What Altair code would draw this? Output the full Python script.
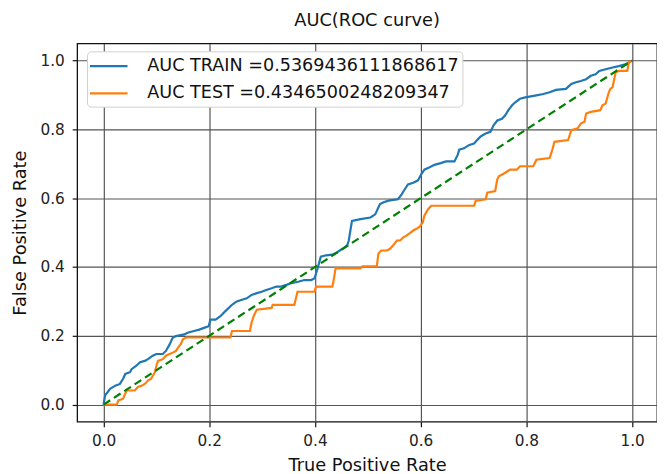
import altair as alt
import pandas as pd

train_label = "AUC TRAIN =0.5369436111868617"
test_label = "AUC TEST =0.4346500248209347"

train_fpr = [0, 0.003, 0.0125, 0.022, 0.031, 0.037, 0.041, 0.050, 0.053, 0.062, 0.069, 0.078, 0.084, 0.093,
             0.100, 0.112, 0.118, 0.125, 0.131, 0.137, 0.153, 0.159, 0.171, 0.181, 0.190, 0.199, 0.202, 0.212,
             0.221, 0.230, 0.243, 0.252, 0.262, 0.271, 0.280, 0.290, 0.299, 0.308, 0.318, 0.327, 0.336, 0.346,
             0.355, 0.368, 0.380, 0.393, 0.399, 0.402, 0.405, 0.411, 0.421, 0.433, 0.442, 0.452, 0.461, 0.464,
             0.467, 0.470, 0.486, 0.505, 0.514, 0.520, 0.523, 0.530, 0.539, 0.557, 0.564, 0.570, 0.576, 0.586,
             0.595, 0.601, 0.607, 0.617, 0.626, 0.638, 0.648, 0.664, 0.670, 0.673, 0.682, 0.692, 0.701, 0.707,
             0.713, 0.723, 0.732, 0.738, 0.745, 0.754, 0.760, 0.766, 0.773, 0.779, 0.788, 0.798, 0.819, 0.832,
             0.844, 0.856, 0.875, 0.885, 0.894, 0.903, 0.913, 0.922, 0.931, 0.938, 0.950, 0.963, 0.975, 0.987, 1.0]
train_tpr = [0, 0.027, 0.046, 0.055, 0.060, 0.075, 0.089, 0.094, 0.103, 0.113, 0.123, 0.127, 0.132, 0.142,
             0.147, 0.147, 0.156, 0.175, 0.195, 0.199, 0.204, 0.209, 0.214, 0.218, 0.223, 0.228, 0.247, 0.247,
             0.257, 0.271, 0.290, 0.300, 0.305, 0.309, 0.319, 0.324, 0.328, 0.333, 0.338, 0.343, 0.343, 0.348,
             0.353, 0.357, 0.362, 0.362, 0.367, 0.381, 0.396, 0.430, 0.434, 0.436, 0.443, 0.453, 0.463, 0.477,
             0.506, 0.534, 0.539, 0.544, 0.553, 0.573, 0.583, 0.588, 0.593, 0.597, 0.611, 0.626, 0.640, 0.645,
             0.652, 0.669, 0.683, 0.690, 0.697, 0.702, 0.707, 0.707, 0.726, 0.741, 0.745, 0.755, 0.759, 0.769,
             0.779, 0.788, 0.793, 0.812, 0.826, 0.831, 0.841, 0.856, 0.870, 0.879, 0.889, 0.893, 0.899, 0.903,
             0.908, 0.915, 0.918, 0.932, 0.937, 0.941, 0.946, 0.956, 0.960, 0.970, 0.975, 0.980, 0.984, 0.989, 1.0]

test_fpr = [0, 0.025, 0.028, 0.037, 0.041, 0.044, 0.059, 0.065, 0.072, 0.078, 0.084, 0.090, 0.097, 0.100,
            0.103, 0.112, 0.118, 0.125, 0.131, 0.137, 0.143, 0.146, 0.150, 0.156, 0.240, 0.243, 0.277, 0.280,
            0.284, 0.290, 0.318, 0.320, 0.361, 0.364, 0.367, 0.399, 0.402, 0.433, 0.436, 0.439, 0.486, 0.490,
            0.517, 0.520, 0.525, 0.536, 0.542, 0.548, 0.555, 0.561, 0.567, 0.573, 0.579, 0.586, 0.592, 0.598,
            0.604, 0.607, 0.614, 0.620, 0.701, 0.704, 0.723, 0.726, 0.741, 0.745, 0.748, 0.760, 0.769, 0.782,
            0.788, 0.813, 0.819, 0.844, 0.850, 0.853, 0.879, 0.885, 0.897, 0.903, 0.910, 0.913, 0.922, 0.940,
            0.944, 0.950, 0.956, 0.959, 0.963, 0.969, 0.975, 0.991, 0.994, 1.0]
test_tpr = [0, 0, 0.012, 0.017, 0.032, 0.041, 0.041, 0.051, 0.055, 0.060, 0.070, 0.075, 0.094, 0.113,
            0.127, 0.132, 0.142, 0.147, 0.151, 0.156, 0.170, 0.175, 0.190, 0.195, 0.195, 0.214, 0.214, 0.238,
            0.257, 0.276, 0.281, 0.290, 0.290, 0.309, 0.328, 0.328, 0.343, 0.343, 0.367, 0.396, 0.396, 0.402,
            0.402, 0.439, 0.448, 0.448, 0.453, 0.463, 0.477, 0.477, 0.486, 0.491, 0.498, 0.506, 0.511, 0.517,
            0.530, 0.549, 0.568, 0.578, 0.578, 0.592, 0.597, 0.616, 0.621, 0.655, 0.664, 0.674, 0.683, 0.683,
            0.693, 0.693, 0.712, 0.717, 0.745, 0.764, 0.769, 0.798, 0.803, 0.817, 0.822, 0.846, 0.851, 0.856,
            0.870, 0.875, 0.908, 0.918, 0.922, 0.966, 0.970, 0.970, 0.994, 1.0]

diag_x = [0, 1]
diag_y = [0, 1]

tick_values = [0.0, 0.2, 0.4, 0.6, 0.8, 1.0]

rows = []
for i, (a, b) in enumerate(zip(train_fpr, train_tpr)):
    rows.append({"series": train_label, "fpr": a, "tpr": b, "idx": i})
for i, (a, b) in enumerate(zip(test_fpr, test_tpr)):
    rows.append({"series": test_label, "fpr": a, "tpr": b, "idx": i})
df = pd.DataFrame(rows)
diag = pd.DataFrame({"fpr": diag_x, "tpr": diag_y})

FONT = "DejaVu Sans"

xscale = alt.Scale(domain=[-0.05, 1.0472], nice=False, zero=False)
yscale = alt.Scale(domain=[-0.05, 1.05], nice=False, zero=False)

xaxis = alt.Axis(values=tick_values, format=".1f", title="True Positive Rate",
                 labelPadding=7, titlePadding=8)
yaxis = alt.Axis(values=tick_values, format=".1f", title="False Positive Rate",
                 labelPadding=8, titlePadding=11)

lines = alt.Chart(df).mark_line(strokeWidth=2.2).encode(
    x=alt.X("fpr:Q", scale=xscale, axis=xaxis),
    y=alt.Y("tpr:Q", scale=yscale, axis=yaxis),
    order="idx:Q",
    color=alt.Color("series:N",
                    scale=alt.Scale(domain=[train_label, test_label], range=["#1f77b4", "#ff7f0e"]),
                    legend=alt.Legend(orient="none", legendX=10, legendY=8, title=None,
                                      symbolType="M-2,0H2", symbolSize=361, symbolStrokeWidth=2.2,
                                      symbolOffset=7,
                                      labelFontSize=17.8, labelFont=FONT, labelColor="#111",
                                      labelOffset=28, fillColor="white", strokeColor="#d0d0d0",
                                      cornerRadius=4, padding=4, rowPadding=7.5, labelLimit=500)),
)

diag_line = alt.Chart(diag).mark_line(color="#008000", strokeWidth=2.2, strokeDash=[8, 4.5]).encode(
    x=alt.X("fpr:Q", scale=xscale),
    y=alt.Y("tpr:Q", scale=yscale),
)

chart = alt.layer(lines, diag_line).properties(
    width=587, height=383,
    autosize=alt.AutoSizeParams(type="none"),
    padding={"left": 70, "top": 33, "right": 0, "bottom": 50},
    title=alt.TitleParams("AUC(ROC curve)", fontSize=18, font=FONT, fontWeight="normal",
                          color="#111", anchor="middle", offset=14),
).configure_view(stroke="#111", strokeWidth=1.3).configure_axis(
    grid=True, gridColor="#555", gridWidth=1.2, domain=False,
    tickColor="#111", tickSize=5, tickWidth=1.2,
    labelFont=FONT, labelFontSize=15.5, labelColor="#222",
    titleFont=FONT, titleFontSize=18, titleFontWeight="normal", titleColor="#111",
)

chart.save("out.html", embed_options={"renderer": "svg", "actions": False})
